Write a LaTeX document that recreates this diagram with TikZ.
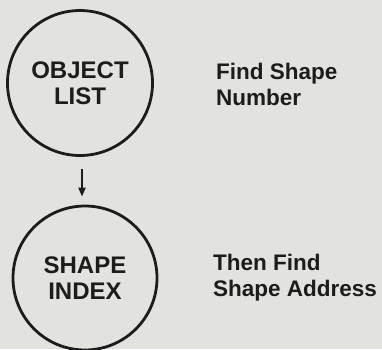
\documentclass[tikz,border=0pt]{standalone}
\usepackage{fontspec}
\setmainfont{Liberation Sans}
\usetikzlibrary{arrows.meta}
\definecolor{bg}{RGB}{226,227,222}
\definecolor{ink}{RGB}{28,28,28}
\tikzset{
  blob/.style={circle, draw=ink, line width=2.8pt, minimum size=#1, inner sep=0pt,
    font=\fontsize{24}{25.5}\selectfont\bfseries, text=ink, align=center},
  note/.style={anchor=north west, font=\fontsize{22.5}{26}\selectfont\bfseries, text=ink, align=left, inner sep=0pt},
  flow/.style={draw=ink, line width=2pt, -{Triangle[length=9pt,width=7pt]}}
}
\begin{document}
\begin{tikzpicture}[x=1pt,y=-1pt]
\fill[bg] (0,0) rectangle (382,349);
\useasboundingbox (0,0) rectangle (382,349);
\node[blob=145pt] (top) at (80,83) {OBJECT\\LIST};
\node[blob=144pt] (bot) at (85,278) {SHAPE\\INDEX};
\coordinate (ax) at (82,0);
\draw[flow, shorten <=12pt, shorten >=8pt] (top.south -| ax) -- (bot.north -| ax);
\node[note] (n1) at (216,63) {Find Shape\\Number};
\node[note] (n2) at (213,254) {Then Find\\Shape Address};
\end{tikzpicture}
\end{document}
